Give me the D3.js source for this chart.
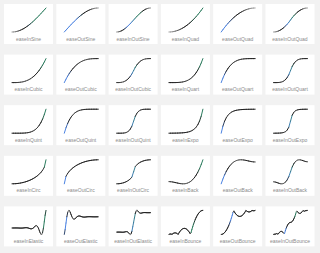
<!DOCTYPE html>
<html><head><meta charset="utf-8">
<script src="https://cdn.jsdelivr.net/npm/d3@7"></script>
<style>html,body{margin:0;padding:0;background:#f2f2f2;}svg{display:block;}</style>
</head><body>
<script>
const T21 = [0,.05,.1,.15,.2,.25,.3,.35,.4,.45,.5,.55,.6,.65,.7,.75,.8,.85,.9,.95,1];
const T41 = [0,.025,.05,.075,.1,.125,.15,.175,.2,.225,.25,.275,.3,.325,.35,.375,.4,.425,.45,.475,.5,.525,.55,.575,.6,.625,.65,.675,.7,.725,.75,.775,.8,.825,.85,.875,.9,.925,.95,.975,1];

const easeInSine = [0,.003,.012,.028,.049,.076,.109,.147,.191,.240,.293,.351,.412,.478,.546,.617,.691,.767,.844,.921,1];
const easeOutSine = [0,.078,.156,.233,.309,.383,.454,.523,.588,.649,.707,.760,.809,.853,.891,.924,.951,.972,.988,.997,1];
const easeInOutSine = [0,.006,.024,.054,.095,.146,.206,.273,.345,.422,.5,.578,.655,.727,.794,.854,.905,.946,.976,.994,1];
const easeInQuad = [0,.0025,.01,.0225,.04,.0625,.09,.1225,.16,.2025,.25,.3025,.36,.4225,.49,.5625,.64,.7225,.81,.9025,1];
const easeOutQuad = [0,.0975,.19,.2775,.36,.4375,.51,.5775,.64,.6975,.75,.7975,.84,.8775,.91,.9375,.96,.9775,.99,.9975,1];
const easeInOutQuad = [0,.005,.02,.045,.08,.125,.18,.245,.32,.405,.5,.595,.68,.755,.82,.875,.92,.955,.98,.995,1];
const easeInCubic = [0,0,.001,.003,.008,.016,.027,.043,.064,.091,.125,.166,.216,.275,.343,.422,.512,.614,.729,.857,1];
const easeOutCubic = [0,.143,.271,.386,.488,.578,.657,.725,.784,.834,.875,.909,.936,.957,.973,.984,.992,.997,.999,1,1];
const easeInOutCubic = [0,.0005,.004,.0135,.032,.0625,.108,.1715,.256,.3645,.5,.6355,.744,.8285,.892,.9375,.968,.9865,.996,.9995,1];
const easeInQuart = [0,0,.0001,.0005,.0016,.0039,.0081,.015,.0256,.041,.0625,.0915,.1296,.1785,.2401,.3164,.4096,.522,.6561,.8145,1];
const easeOutQuart = [0,.1855,.3439,.478,.5904,.6836,.7599,.8215,.8704,.9085,.9375,.959,.9744,.985,.9919,.9961,.9984,.9995,.9999,1,1];
const easeInOutQuart = [0,.00005,.0008,.004,.0128,.03125,.0648,.12,.2048,.328,.5,.672,.7952,.88,.9352,.96875,.9872,.996,.9992,.99995,1];
const easeInQuint = [0,0,.00001,.00008,.00032,.001,.0024,.0053,.0102,.0185,.03125,.0503,.0778,.116,.1681,.2373,.3277,.4437,.5905,.7738,1];
const easeOutQuint = [0,.2262,.4095,.5563,.6723,.7627,.8319,.884,.9222,.9497,.96875,.9815,.9898,.9947,.9976,.999,.9997,.9999,1,1,1];
const easeInOutQuint = [0,0,.00016,.0012,.0051,.0156,.0389,.084,.1638,.2952,.5,.7048,.8362,.916,.9611,.9844,.9949,.9988,.9998,1,1];
const easeInExpo = [0,.00138,.00195,.00276,.0039,.0055,.0078,.011,.0156,.0221,.03125,.0442,.0625,.0884,.125,.1768,.25,.3536,.5,.7071,1];
const easeOutExpo = [0,.2929,.5,.6464,.75,.8232,.875,.9116,.9375,.9558,.9688,.9779,.9844,.989,.9922,.9945,.9961,.9972,.998,.9986,1];
const easeInOutExpo = [0,.00098,.00195,.0039,.0078,.0156,.03125,.0625,.125,.25,.5,.75,.875,.9375,.9688,.9844,.9922,.9961,.998,.999,1];
const easeInCirc = [0,.00125,.005,.0113,.0202,.0318,.0461,.0633,.0835,.107,.134,.1648,.2,.2401,.2859,.3386,.4,.4732,.5641,.6878,1];
const easeOutCirc = [0,.3122,.4359,.5268,.6,.6614,.7141,.7599,.8,.8352,.866,.893,.9165,.9367,.9539,.9682,.9798,.9887,.995,.9987,1];
const easeInOutCirc = [0,.0025,.0101,.0231,.0417,.067,.1,.1429,.2,.2821,.5,.7179,.8,.8571,.9,.933,.9583,.9769,.9899,.9975,1];
const easeInBack = [0,-.0039,-.0143,-.0292,-.0465,-.0641,-.0802,-.0926,-.0994,-.0984,-.0877,-.0653,-.029,.023,.0929,.1826,.2942,.4297,.5912,.7806,1];
const easeOutBack = [0,.2194,.4088,.5703,.7058,.8174,.9071,.977,1.029,1.0653,1.0877,1.0984,1.0994,1.0926,1.0802,1.0641,1.0465,1.0292,1.0143,1.0039,1];
const easeInOutBack = [0,-.0112,-.0375,-.0682,-.0926,-.0997,-.0788,-.0192,.0899,.2594,.5,.7406,.9101,1.0192,1.0788,1.0997,1.0926,1.0682,1.0375,1.0112,1];
const easeInElastic = [0,0,.0007,.0014,.002,.002,.0014,0,-.002,-.004,-.0055,-.0057,-.0039,0,.0055,.0114,.0156,.0161,.011,0,-.0156,-.0322,-.0442,-.0455,-.0313,0,.0442,.091,.125,.1288,.0884,0,-.125,-.2575,-.3536,-.3641,-.25,0,.3536,.7282,1];
const easeOutElastic = [0,.2718,.6464,1,1.25,1.3641,1.3536,1.2575,1.125,1,.9116,.8712,.875,.909,.9558,1,1.0313,1.0455,1.0442,1.0322,1.0156,1,.989,.9839,.9844,.9886,.9945,1,1.0039,1.0057,1.0055,1.004,1.002,1,.9986,.998,.998,.9986,.9993,1,1];
const easeInOutElastic = [0,.0005,.001,.0011,.0003,-.0014,-.0037,-.0052,-.0039,.0019,.012,.0221,.0239,.0077,-.0313,-.0831,-.1175,-.0884,.0434,.2708,.5,.7292,.9566,1.0884,1.1175,1.0831,1.0313,.9923,.9761,.9779,.988,.9981,1.0039,1.0052,1.0037,1.0014,.9997,.9989,.999,.9995,1];
const easeInBounce = [0,.0124,.0154,.009,.0119,.0381,.0548,.0621,.06,.0484,.0273,.0062,.0694,.1231,.1673,.2021,.2275,.2434,.2498,.2468,.2344,.2125,.1811,.1403,.09,.0303,.0736,.2012,.3194,.4281,.5273,.6172,.6975,.7684,.8298,.8818,.9244,.9575,.9811,.9953,1];
const easeOutBounce = [0,.0047,.0189,.0425,.0756,.1182,.1702,.2316,.3025,.3828,.4727,.5719,.6806,.7988,.9264,.9697,.91,.8597,.8189,.7875,.7656,.7532,.7502,.7566,.7725,.7979,.8327,.8769,.9306,.9938,.9727,.9516,.94,.9379,.9452,.9619,.9881,.991,.9846,.9876,1];
const easeInOutBounce = [0,.0077,.006,.0274,.03,.0137,.0347,.0837,.1138,.1249,.1172,.0906,.045,.0368,.1597,.2637,.3488,.4149,.4622,.4906,.5,.5095,.5378,.5851,.6513,.7364,.8403,.9632,.955,.9095,.8828,.8751,.8863,.9164,.9653,.9864,.97,.9726,.9941,.9923,1];

const easeNames = ["easeInSine","easeOutSine","easeInOutSine","easeInQuad","easeOutQuad","easeInOutQuad",
  "easeInCubic","easeOutCubic","easeInOutCubic","easeInQuart","easeOutQuart","easeInOutQuart",
  "easeInQuint","easeOutQuint","easeInOutQuint","easeInExpo","easeOutExpo","easeInOutExpo",
  "easeInCirc","easeOutCirc","easeInOutCirc","easeInBack","easeOutBack","easeInOutBack",
  "easeInElastic","easeOutElastic","easeInOutElastic","easeInBounce","easeOutBounce","easeInOutBounce"];
const easeValues = [easeInSine,easeOutSine,easeInOutSine,easeInQuad,easeOutQuad,easeInOutQuad,
  easeInCubic,easeOutCubic,easeInOutCubic,easeInQuart,easeOutQuart,easeInOutQuart,
  easeInQuint,easeOutQuint,easeInOutQuint,easeInExpo,easeOutExpo,easeInOutExpo,
  easeInCirc,easeOutCirc,easeInOutCirc,easeInBack,easeOutBack,easeInOutBack,
  easeInElastic,easeOutElastic,easeInOutElastic,easeInBounce,easeOutBounce,easeInOutBounce];

const W = 320, H = 253;
const svg = d3.select("body").append("svg").attr("width", W).attr("height", H);
svg.append("rect").attr("width", W).attr("height", H).attr("fill", "#f2f2f2");

const clamp = v => Math.max(0, Math.min(1, v));
const BLACK = "#1c1c1c", GRAY = "#b8b8b8", BLUE = "#4a82e2", GREEN = "#2b7c5e";

easeNames.forEach((name, i) => {
  const vals = easeValues[i];
  const ts = vals.length === 21 ? T21 : T41;
  const c = i % 6, r = Math.floor(i / 6);
  const x0 = 4 + c * 52.3, y0 = 4 + r * 50.6;
  const g = svg.append("g").attr("transform", `translate(${x0},${y0})`);
  g.append("rect").attr("width", 49).attr("height", 40).attr("fill", "#fff");

  const xs = d3.scaleLinear().domain([0, 1]).range([8, 42]);
  const ys = d3.scaleLinear().domain(d3.extent(vals)).range([28, 4]);

  const n = vals.length;
  const vel = d3.range(n - 1).map(k => (vals[k + 1] - vals[k]) / (ts[k + 1] - ts[k]));
  const acc = vel.map((v, k) => {
    const a = vel[Math.max(0, k - 1)], b = vel[Math.min(n - 2, k + 1)];
    const dt = ts[Math.min(n - 1, k + 2)] - ts[Math.max(0, k - 1)];
    return (b - a) / (dt || 1) * 1.5;
  });
  const vmax = d3.max(vel, v => Math.abs(v)) || 1;
  const amax = d3.max(acc, a => Math.abs(a)) || 1;

  for (let k = 0; k < n - 1; k++) {
    const s = Math.abs(vel[k]) / vmax;
    const ga = Math.abs(acc[k]) / amax;
    const tm = (ts[k] + ts[k + 1]) / 2;
    const grayAmt = clamp(ga * 1.2) * clamp(1 - s / 0.5);
    const hiAmt = clamp((s - 0.62) / 0.25);
    const hi = d3.interpolateRgb(BLUE, GREEN)(clamp((tm - 0.4) / 0.2));
    const base = d3.interpolateRgb(BLACK, GRAY)(grayAmt);
    const col = d3.interpolateRgb(base, hi)(hiAmt);
    g.append("line")
      .attr("x1", xs(ts[k])).attr("y1", ys(vals[k]))
      .attr("x2", xs(ts[k + 1])).attr("y2", ys(vals[k + 1]))
      .attr("stroke", col).attr("stroke-width", 1).attr("stroke-linecap", "round");
  }

  g.append("text").attr("x", 24.5).attr("y", 36.5)
    .attr("text-anchor", "middle")
    .attr("font-family", "Liberation Sans, Arial, sans-serif")
    .attr("font-size", 5).attr("fill", "#8a8a8a")
    .text(name);
});
</script>
</body></html>
